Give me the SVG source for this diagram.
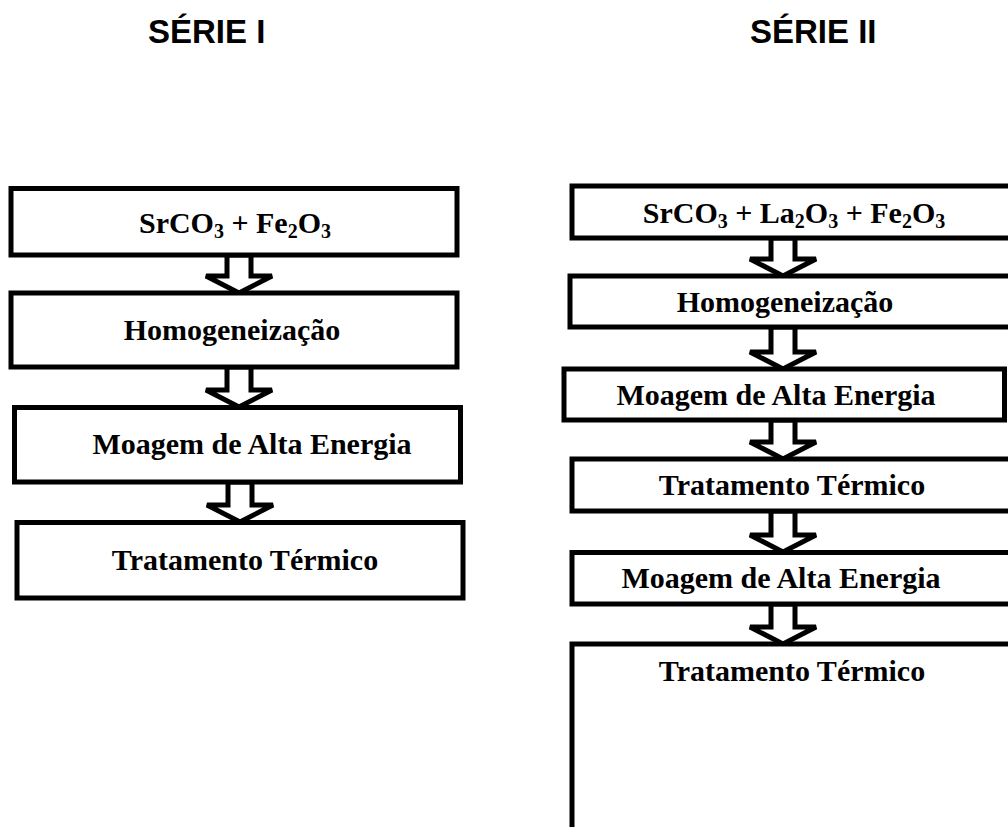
<svg xmlns="http://www.w3.org/2000/svg" width="1008" height="827" viewBox="0 0 1008 827">
<style>
.box{fill:#fff;stroke:#000;stroke-width:5}
.arr{fill:#fff;stroke:#000;stroke-width:5;stroke-linejoin:miter}
.lbl{font-family:"Liberation Serif","Times New Roman",serif;font-weight:bold;font-size:30px;fill:#000;text-anchor:middle}
.sub{font-size:20px}
.ttl{font-family:"Liberation Sans",Arial,sans-serif;font-weight:bold;font-size:33px;fill:#000}
</style>
<rect width="1008" height="827" fill="#fff"/>
<g id="titles">
<text class="ttl" x="148" y="43">SÉRIE I</text>
<text class="ttl" x="750" y="43">SÉRIE II</text>
</g>
<g id="connectors">
<polygon class="arr" points="227,255 227,276 206,276 239,293 272,276 251,276 251,255"/>
<polygon class="arr" points="227,367 227,390 206,390 239,407 272,390 251,390 251,367"/>
<polygon class="arr" points="228,482 228,505 207,505 240,522 273,505 252,505 252,482"/>
<polygon class="arr" points="771,238 771,259 750,259 783,276 816,259 795,259 795,238"/>
<polygon class="arr" points="771,327 771,352 750,352 783,369 816,352 795,352 795,327"/>
<polygon class="arr" points="771,420 771,442 750,442 783,459 816,442 795,442 795,420"/>
<polygon class="arr" points="771,511 771,535 750,535 783,552 816,535 795,535 795,511"/>
<polygon class="arr" points="771,604 771,627 750,627 783,644 816,627 795,627 795,604"/>
</g>
<g id="s1-n1"><rect class="box" x="11" y="188.5" width="446" height="66.5"/>
<text class="lbl" x="235" y="233">SrCO<tspan class="sub" dy="5">3</tspan><tspan dy="-5"> + Fe</tspan><tspan class="sub" dy="5">2</tspan><tspan dy="-5">O</tspan><tspan class="sub" dy="5">3</tspan></text></g>
<g id="s1-n2"><rect class="box" x="11" y="293" width="446" height="74"/>
<text class="lbl" x="232" y="340">Homogeneização</text></g>
<g id="s1-n3"><rect class="box" x="14.5" y="407.5" width="446" height="74.5"/>
<text class="lbl" x="252" y="454">Moagem de Alta Energia</text></g>
<g id="s1-n4"><rect class="box" x="17" y="522.5" width="446" height="75.5"/>
<text class="lbl" x="245" y="570">Tratamento Térmico</text></g>
<g id="s2-n1"><rect class="box" x="572" y="186" width="441" height="52"/>
<text class="lbl" x="794" y="223">SrCO<tspan class="sub" dy="5">3</tspan><tspan dy="-5"> + La</tspan><tspan class="sub" dy="5">2</tspan><tspan dy="-5">O</tspan><tspan class="sub" dy="5">3</tspan><tspan dy="-5"> + Fe</tspan><tspan class="sub" dy="5">2</tspan><tspan dy="-5">O</tspan><tspan class="sub" dy="5">3</tspan></text></g>
<g id="s2-n2"><rect class="box" x="570" y="276" width="441" height="51"/>
<text class="lbl" x="785" y="312">Homogeneização</text></g>
<g id="s2-n3"><rect class="box" x="564" y="369" width="440.5" height="51"/>
<text class="lbl" x="776" y="405">Moagem de Alta Energia</text></g>
<g id="s2-n4"><rect class="box" x="572" y="459" width="441" height="52"/>
<text class="lbl" x="792" y="495">Tratamento Térmico</text></g>
<g id="s2-n5"><rect class="box" x="572" y="552.5" width="441" height="51.5"/>
<text class="lbl" x="781" y="588">Moagem de Alta Energia</text></g>
<g id="s2-n6"><rect class="box" x="572" y="644" width="441" height="200"/>
<text class="lbl" x="792" y="681">Tratamento Térmico</text></g>
</svg>
